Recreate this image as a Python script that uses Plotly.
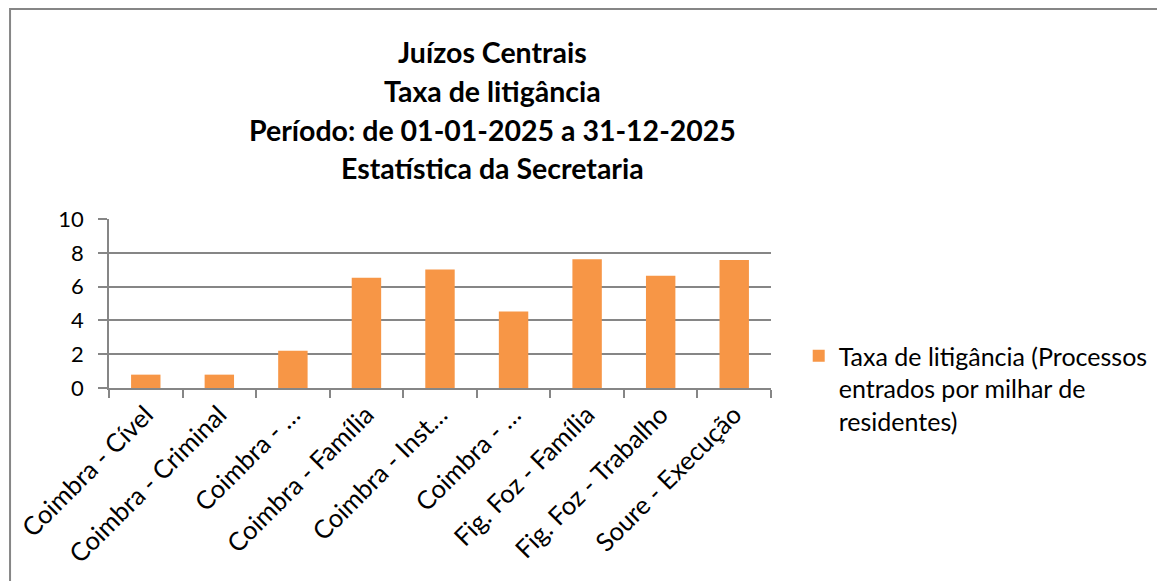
"""Juízos Centrais - taxa de litigância (bar chart)."""

import plotly.graph_objects as go

categorias = [
    "Coimbra - Cível",
    "Coimbra - Criminal",
    "Coimbra - …",
    "Coimbra - Família",
    "Coimbra - Inst…",
    "Coimbra - …",
    "Fig. Foz - Família",
    "Fig. Foz - Trabalho",
    "Soure - Execução",
]
# category labels must be unique on the axis; the two truncated ones get ids
cat_ids = [f"c{i}" for i in range(len(categorias))]
taxa = [0.79, 0.79, 2.2, 6.52, 7.01, 4.52, 7.62, 6.64, 7.58]
y_ticks = [0, 2, 4, 6, 8, 10]

serie_nome = "Taxa de litigância (Processos<br>entrados por milhar de<br>residentes)"
titulo_linhas = [
    "Juízos Centrais",
    "Taxa de litigância",
    "Período: de 01-01-2025 a 31-12-2025",
    "Estatística da Secretaria",
]

FONT = "Lato, Calibri, sans-serif"
GREY = "#868686"

# the page body adds an 8px margin, so the figure is 8px smaller than the window
W, H = 1157, 573
L, R, T, B = 101, 387, 211, 193
pw, ph = W - L - R, H - T - B


def px_x(px):
    return (px - L) / pw


def px_y(py):
    return (H - B - py) / ph


fig = go.Figure(
    go.Bar(
        x=cat_ids,
        y=taxa,
        name=serie_nome,
        marker=dict(color="#F79646", line=dict(width=0)),
        showlegend=True,
    )
)

# title lines, one annotation each so the line spacing follows the original
title_annots = [
    dict(
        text=f"<b>{linha}</b>",
        xref="paper",
        yref="paper",
        x=px_x(489),
        y=px_y(44 + 38.8 * i),
        xanchor="center",
        yanchor="middle",
        showarrow=False,
        font=dict(family=FONT, size=28.5, color="black"),
    )
    for i, linha in enumerate(titulo_linhas)
]

fig.update_layout(
    width=W,
    height=H,
    margin=dict(l=L, r=R, t=T, b=B),
    paper_bgcolor="white",
    plot_bgcolor="white",
    font=dict(family=FONT, size=24, color="black"),
    bargap=0.6,
    annotations=title_annots,
    legend=dict(
        x=px_x(798),
        y=px_y(325),
        xanchor="left",
        yanchor="top",
        valign="top",
        font=dict(family=FONT, size=25),
        itemwidth=30,
        bgcolor="rgba(0,0,0,0)",
    ),
    shapes=[
        dict(
            type="rect",
            xref="paper",
            yref="paper",
            x0=px_x(1),
            x1=px_x(1200),
            y0=px_y(620),
            y1=px_y(1),
            line=dict(color=GREY, width=2),
            layer="below",
        )
    ],
)

fig.update_xaxes(
    type="category",
    tickvals=cat_ids,
    ticktext=categorias,
    tickangle=-45,
    automargin=False,
    showline=True,
    linecolor=GREY,
    linewidth=1.5,
    ticks="outside",
    tickson="boundaries",
    ticklen=8,
    tickcolor=GREY,
    tickwidth=1.5,
    showgrid=False,
    tickfont=dict(family=FONT, size=25.5),
)
fig.update_yaxes(
    range=[0, 10],
    tickvals=y_ticks,
    automargin=False,
    showline=True,
    linecolor=GREY,
    linewidth=1.5,
    ticks="outside",
    ticklen=9,
    tickcolor=GREY,
    tickwidth=1.5,
    ticklabelstandoff=10,
    showgrid=True,
    gridcolor=GREY,
    gridwidth=1.5,
    zeroline=False,
    tickfont=dict(family=FONT, size=22),
)

fig.write_html("out.html")
